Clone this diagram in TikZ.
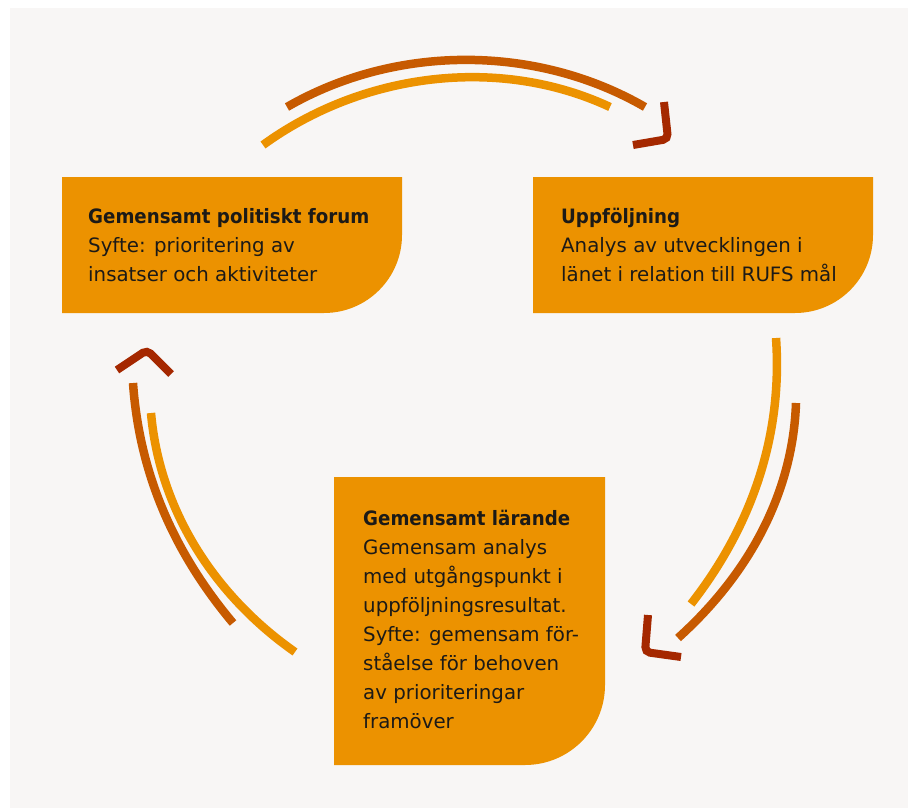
\documentclass[tikz,border=0pt]{standalone}
\usepackage{fontspec}
\setmainfont{DejaVu Sans}[BoldFeatures={FakeStretch=0.92}]
\usepackage{tikz}

\definecolor{panelgrey}{HTML}{F8F6F5}
\definecolor{stageorange}{HTML}{EC9200}
\definecolor{arcdark}{HTML}{C75A00}
\definecolor{tipred}{HTML}{A52800}
\definecolor{inkblack}{HTML}{1C1A17}

\begin{document}
\begin{tikzpicture}[x=1pt, y=-1pt,
  stage/.style={fill=stageorange},
  stagetext/.style={anchor=north west, inner sep=0pt, align=left, text=inkblack,
    font=\fontsize{19.8}{29}\selectfont},
  arclight/.style={line width=8.5pt, stageorange, looseness=0.9},
  arcshade/.style={line width=8.5pt, arcdark, looseness=0.9},
  tip/.style={line width=8pt, tipred, rounded corners=5pt}]
  \useasboundingbox (0,0) rectangle (908,808);
  % Panel
  \fill[panelgrey] (10,8) rectangle (908,808);

  % Gemensamt politiskt forum
  \fill[stage] (62,177) -- (402,177) -- (402,235) arc[start angle=0, end angle=-90, radius=78pt] -- (62,313) -- cycle;
  \node[stagetext] (forum) at (88,208) {\textbf{Gemensamt politiskt forum}\\Syfte: prioritering av\\insatser och aktiviteter};

  % Uppföljning
  \fill[stage] (533,177) -- (873,177) -- (873,235) arc[start angle=0, end angle=-90, radius=78pt] -- (533,313) -- cycle;
  \node[stagetext] (followup) at (561,208) {\textbf{Uppföljning}\\Analys av utvecklingen i\\länet i relation till RUFS mål};

  % Gemensamt lärande
  \fill[stage] (334,477) -- (605,477) -- (605,685) arc[start angle=0, end angle=-90, radius=80pt] -- (334,765) -- cycle;
  \node[stagetext] (learning) at (363,510) {\textbf{Gemensamt lärande}\\Gemensam analys\\med utgångspunkt i\\uppföljningsresultat.\\Syfte: gemensam för-\\ståelse för behoven\\av prioriteringar\\framöver};

  % Arrow forum -> uppföljning
  \draw[arcshade] (287,107) to[out=30, in=150] (645,107);
  \draw[arclight] (263,145) to[out=36, in=155] (610,107);
  \draw[tip] (664,102) -- (668,139) -- (633,145);

  % Arrow uppföljning -> lärande
  \draw[arclight] (776,338) to[out=-86, in=52] (691,604);
  \draw[arcshade] (796,403) to[out=-92, in=42] (678,638);
  \draw[tip] (648,615) -- (645,652) -- (681,657);

  % Arrow lärande -> forum
  \draw[arcshade] (133,383) to[out=-86, in=130] (233,623);
  \draw[arclight] (151,413) to[out=-85, in=145] (295,652);
  \draw[tip] (117,370) -- (147,350) -- (171,374);
\end{tikzpicture}
\end{document}
